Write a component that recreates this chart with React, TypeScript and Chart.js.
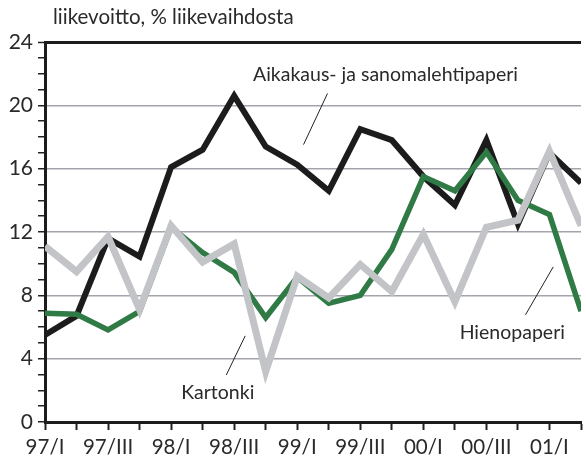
import React, { useEffect, useRef } from "react";
import { Chart, registerables } from "chart.js";

Chart.register(...registerables);

const quarters = [
  "97/I", "97/II", "97/III", "97/IV",
  "98/I", "98/II", "98/III", "98/IV",
  "99/I", "99/II", "99/III", "99/IV",
  "00/I", "00/II", "00/III", "00/IV",
  "01/I", "01/II",
];

const aikakaus = [5.5, 6.7, 11.6, 10.45, 16.1, 17.2, 20.6, 17.4, 16.25, 14.6, 18.5, 17.8, 15.5, 13.7, 17.8, 12.5, 17.0, 15.1];
const hienopaperi = [6.87, 6.8, 5.82, 6.98, 12.3, 10.7, 9.45, 6.6, 9.15, 7.5, 8.0, 10.9, 15.5, 14.6, 17.05, 14.0, 13.1, 7.0];
const kartonki = [11.1, 9.5, 11.7, 7.1, 12.4, 10.1, 11.25, 3.18, 9.2, 7.84, 9.95, 8.24, 11.85, 7.6, 12.3, 12.75, 17.1, 12.4];

const yTickLabels = [0, 4, 8, 12, 16, 20, 24];

const titleText = "liikevoitto, % liikevaihdosta";

const annotations = [
  { text: "Aikakaus- ja sanomalehtipaperi", x: 10.8, y: 21.95, line: [8.96, 20.75, 8.2, 17.52] },
  { text: "Kartonki", x: 5.48, y: 1.83, line: [6.35, 5.44, 5.75, 2.97] },
  { text: "Hienopaperi", x: 14.82, y: 5.63, line: [16.12, 9.8, 15.24, 6.77] },
];

const FONT = "Lato, 'Open Sans', sans-serif";
const TEXT_COLOR = "#2a2a2a";

export default function App() {
  const ref = useRef<HTMLCanvasElement | null>(null);

  useEffect(() => {
    if (!ref.current) return;
    const toPts = (arr: number[]) => arr.map((v, i) => ({ x: i, y: v }));

    const annotPlugin = {
      id: "annot",
      afterDatasetsDraw(chart: any) {
        const { ctx, scales } = chart;
        const xs = scales.x;
        const ys = scales.y;
        ctx.save();
        ctx.fillStyle = TEXT_COLOR;
        ctx.textBaseline = "middle";
        ctx.font = `20.5px ${FONT}`;
        ctx.textAlign = "left";
        ctx.fillText(titleText, 53, 17);
        ctx.font = `19.5px ${FONT}`;
        ctx.textAlign = "center";
        ctx.strokeStyle = "#222";
        ctx.lineWidth = 1;
        for (const a of annotations) {
          ctx.fillText(a.text, xs.getPixelForValue(a.x), ys.getPixelForValue(a.y));
          ctx.beginPath();
          ctx.moveTo(xs.getPixelForValue(a.line[0]), ys.getPixelForValue(a.line[1]));
          ctx.lineTo(xs.getPixelForValue(a.line[2]), ys.getPixelForValue(a.line[3]));
          ctx.stroke();
        }
        ctx.restore();
      },
    };

    const chart = new Chart(ref.current, {
      type: "line",
      data: {
        datasets: [
          {
            label: "Kartonki",
            data: toPts(kartonki),
            borderColor: "#c3c4c8",
            borderWidth: 7,
            pointRadius: 0,
            borderJoinStyle: "miter",
            tension: 0,
            order: 0,
          },
          {
            label: "Hienopaperi",
            data: toPts(hienopaperi),
            borderColor: "#2f7a45",
            borderWidth: 5.5,
            pointRadius: 0,
            borderJoinStyle: "miter",
            tension: 0,
            order: 1,
          },
          {
            label: "Aikakaus- ja sanomalehtipaperi",
            data: toPts(aikakaus),
            borderColor: "#1c1c1c",
            borderWidth: 6,
            pointRadius: 0,
            borderJoinStyle: "miter",
            tension: 0,
            order: 2,
          },
        ],
      },
      options: {
        animation: false,
        responsive: false,
        maintainAspectRatio: false,
        layout: { padding: { top: 42, left: 0, right: 0, bottom: 0 } },
        plugins: {
          legend: { display: false },
          tooltip: { enabled: false },
          title: { display: false },
        },
        scales: {
          x: {
            type: "linear",
            min: 0,
            max: quarters.length - 1,
            afterFit: (s: any) => {
              s.height = 40;
            },
            afterBuildTicks: (s: any) => {
              s.ticks = quarters.map((_, i) => ({ value: i }));
            },
            ticks: {
              autoSkip: false,
              maxRotation: 0,
              padding: 5,
              color: TEXT_COLOR,
              font: { family: FONT, size: 20.5 },
              callback: (v: any) => {
                const i = Math.round(Number(v));
                return i % 2 === 0 && i < quarters.length - 1 ? quarters[i] : "";
              },
            },
            grid: {
              drawOnChartArea: false,
              drawTicks: true,
              tickLength: 8,
              tickColor: "#222",
              tickWidth: 2,
            },
            border: { display: true, color: "#1c1c1c", width: 3 },
          },
          y: {
            min: 0,
            max: 24,
            afterFit: (s: any) => {
              s.width = 45;
            },
            afterBuildTicks: (s: any) => {
              const t = [];
              for (let v = 0; v <= 24; v++) t.push({ value: v });
              s.ticks = t;
            },
            ticks: {
              autoSkip: false,
              padding: 5,
              color: TEXT_COLOR,
              font: { family: FONT, size: 21 },
              callback: (v: any) => (yTickLabels.includes(Number(v)) ? String(v) : ""),
            },
            grid: {
              drawTicks: true,
              tickLength: 7,
              tickColor: "#222",
              tickWidth: 1.5,
              color: (c: any) => {
                const v = c.tick ? c.tick.value : -1;
                if (v === 24) return "#1c1c1c";
                if (v > 0 && v % 4 === 0) return "#a4a4ac";
                return "rgba(0,0,0,0)";
              },
              lineWidth: (c: any) => {
                const v = c.tick ? c.tick.value : -1;
                return v === 24 ? 3 : 1.5;
              },
            },
            border: { display: true, color: "#1c1c1c", width: 3 },
          },
        },
      } as any,
      plugins: [annotPlugin],
    });
    return () => chart.destroy();
  }, []);

  return (
    <div style={{ position: "fixed", left: 0, top: 0, width: 586, height: 462, background: "#fff" }}>
      <canvas ref={ref} width={586} height={462} style={{ width: 586, height: 462, display: "block" }} />
    </div>
  );
}
